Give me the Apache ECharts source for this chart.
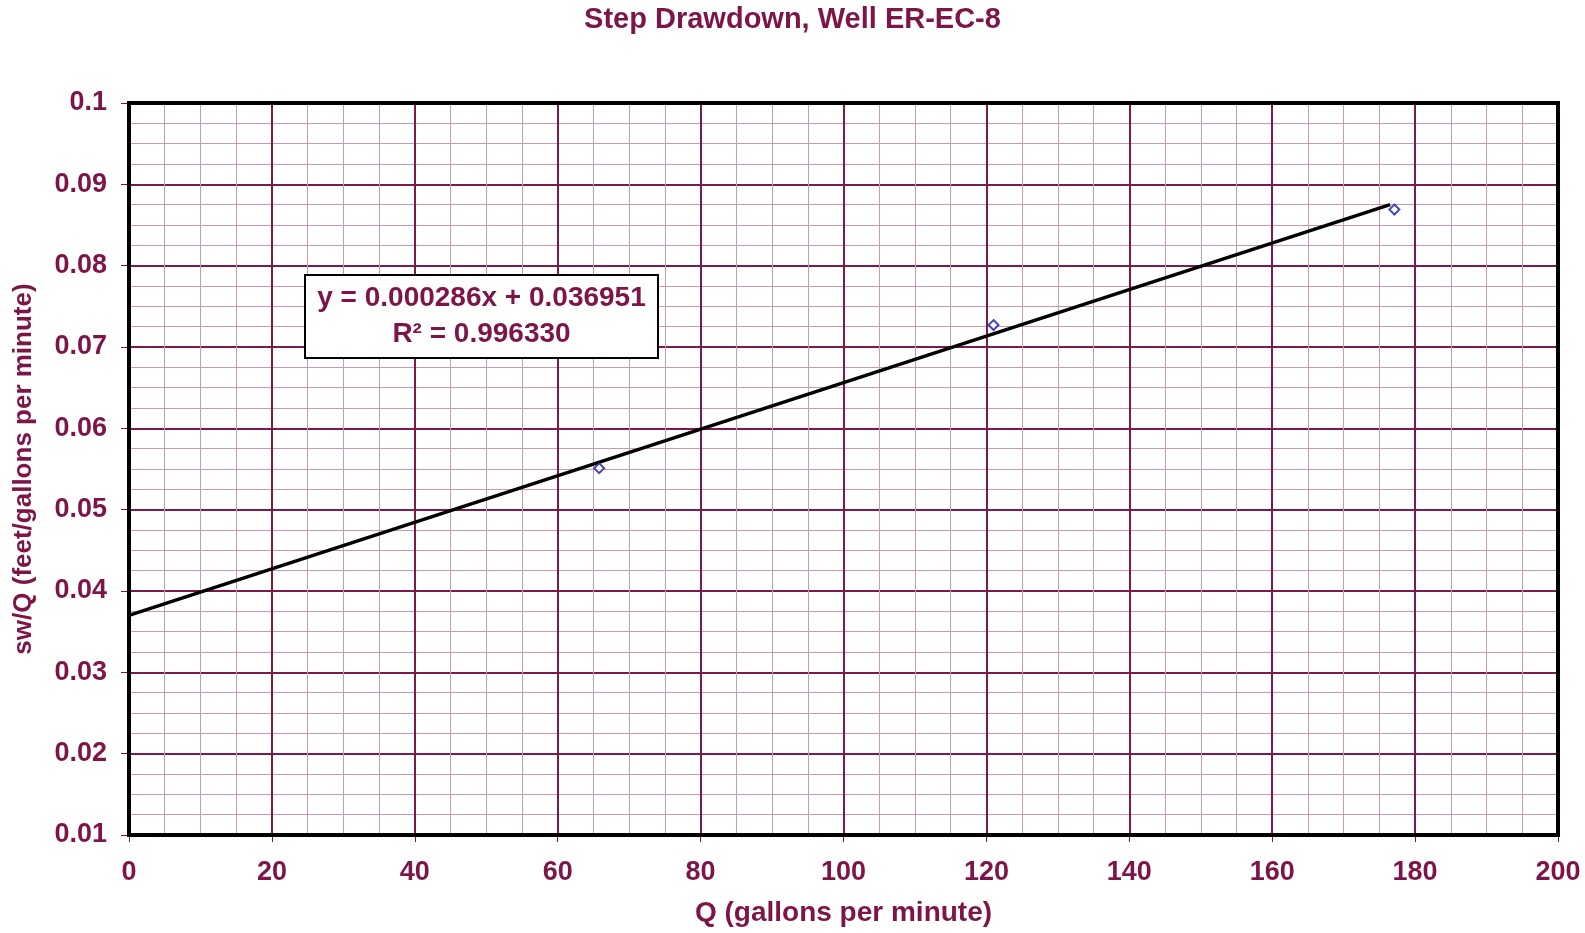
<!DOCTYPE html>
<html>
<head>
<meta charset="utf-8">
<script src="https://cdn.jsdelivr.net/npm/echarts@6/dist/echarts.min.js"></script>
<style>
html,body{margin:0;padding:0;background:#fff;}
#chart{width:1585px;height:933px;}
</style>
</head>
<body>
<div id="chart"></div>
<script>
const titleText = 'Step Drawdown, Well ER-EC-8';
const xName = 'Q (gallons per minute)';
const yName = 'sw/Q (feet/gallons per minute)';
const pointQ = [65.8, 121.0, 177.1];
const pointSwQ = [0.0551, 0.0727, 0.0869];
const trendQ = [0, 176.5];
const trendSwQ = [0.0370, 0.0875];
const eqLine1 = 'y = 0.000286x + 0.036951';
const eqLine2 = 'R² = 0.996330';

const maroon = '#7d1548';
const font = '"Liberation Sans", Arial, sans-serif';

const chart = echarts.init(document.getElementById('chart'), null, {renderer: 'canvas'});
chart.setOption({
  animation: false,
  backgroundColor: '#ffffff',
  title: {
    text: titleText, left: 'center', top: 0,
    textStyle: {color: maroon, fontFamily: font, fontWeight: 'bold', fontSize: 29}
  },
  grid: {
    left: 129, right: 27, top: 103, bottom: 98,
    show: true, borderColor: '#000', borderWidth: 4, backgroundColor: 'transparent', z: 5
  },
  xAxis: {
    type: 'value', min: 0, max: 200, interval: 20,
    name: xName, nameLocation: 'middle', nameGap: 64,
    nameTextStyle: {color: maroon, fontFamily: font, fontWeight: 'bold', fontSize: 28},
    axisLine: {show: false},
    axisTick: {show: true, length: 7, lineStyle: {color: maroon, width: 1}},
    axisLabel: {color: maroon, fontFamily: font, fontWeight: 'bold', fontSize: 27, margin: 24},
    splitLine: {show: true, lineStyle: {color: '#7b1a4b', width: 2}},
    minorTick: {show: false, splitNumber: 4},
    minorSplitLine: {show: true, lineStyle: {color: '#c99ab4', width: 1}}
  },
  yAxis: {
    type: 'value', min: 0.01, max: 0.1, interval: 0.01,
    name: yName, nameLocation: 'middle', nameGap: 92,
    nameTextStyle: {color: maroon, fontFamily: font, fontWeight: 'bold', fontSize: 26},
    axisLine: {show: false},
    axisTick: {show: true, length: 8, lineStyle: {color: maroon, width: 1}},
    axisLabel: {color: maroon, fontFamily: font, fontWeight: 'bold', fontSize: 27, margin: 22,
      formatter: v => String(+v.toFixed(4))},
    splitLine: {show: true, lineStyle: {color: '#7b1a4b', width: 2}},
    minorTick: {show: false, splitNumber: 4},
    minorSplitLine: {show: true, lineStyle: {color: '#c99ab4', width: 1}}
  },
  series: [
    {
      type: 'line', data: trendQ.map((q, i) => [q, trendSwQ[i]]),
      symbol: 'none', lineStyle: {color: '#000', width: 3.5}, z: 3
    },
    {
      type: 'scatter', data: pointQ.map((q, i) => [q, pointSwQ[i]]),
      symbol: 'diamond', symbolSize: 10,
      itemStyle: {color: '#ffffff', borderColor: '#1c1c9c', borderWidth: 2}, z: 4
    }
  ],
  graphic: [{
    type: 'group', left: 304, top: 274, z: 100,
    children: [
      {type: 'rect', z: 100, shape: {x: 0, y: 0, width: 353, height: 83},
        style: {fill: '#ffffff', stroke: '#000', lineWidth: 2}},
      {type: 'text', z: 101, x: 176.5, y: 23,
        style: {text: eqLine1, fill: maroon, font: 'bold 28px ' + font, align: 'center', verticalAlign: 'middle'}},
      {type: 'text', z: 101, x: 176.5, y: 59,
        style: {text: eqLine2, fill: maroon, font: 'bold 28px ' + font, align: 'center', verticalAlign: 'middle'}}
    ]
  }]
});
</script>
</body>
</html>
